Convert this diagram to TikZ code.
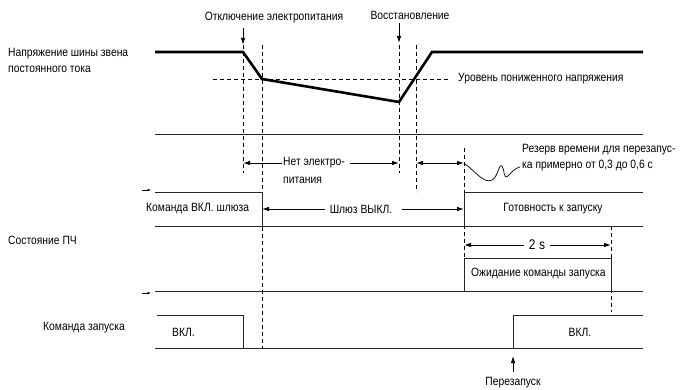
\documentclass[tikz,border=0pt]{standalone}
\usepackage{fontspec}
\setmainfont{Liberation Sans}[FakeStretch=0.86]
\usetikzlibrary{arrows.meta, positioning, calc}

\tikzset{
  sig/.style={line width=0.9pt, black!85},
  volt/.style={line width=2.6pt, line join=miter},
  guide/.style={line width=0.9pt, dash pattern=on 4pt off 3pt},
  arr/.style={line width=0.9pt, -{Latex[length=7pt,width=4.5pt]}},
  darr/.style={line width=0.9pt, {Latex[length=7pt,width=4.5pt]}-{Latex[length=7pt,width=4.5pt]}},
  tick/.style={line width=0.6pt, -{Latex[length=3.5pt,width=2.5pt]}},
  lbl/.style={inner sep=0pt, font=\fontsize{12}{16}\selectfont},
}

\begin{document}
\begin{tikzpicture}[x=1pt,y=-1pt]
	\useasboundingbox (0,0) rectangle (686,390);
	
	% Time instants
	\foreach \n/\x in {tOff/243, tLow/262, tOn/399, tUp/416, tRdy/464, tRun/513, tEnd/611}
	\coordinate (\n) at (\x,0);
	
	% DC bus voltage
	\draw[volt] (155,52) -- (243,52) -- (262,79) -- (399,102) -- (432,52) -- (643,52);
	\draw[guide] (213,79) -- (448,79);
	\node[lbl, anchor=west] (uvLbl) at (458,79) {Уровень пониженного напряжения};
	
	% Guide lines
	\draw[guide] (243,45) -- (243,173);
	\draw[guide] (262,45) -- (262,348);
	\draw[guide] (399,45) -- (399,173);
	\draw[guide] (416,45) -- (416,192);
	\draw[guide] (464,148) -- (464,258);
	\draw[guide] (611,226) -- (611,312);
	
	% Signal rows
	\draw[sig] (155,134) -- (643,134);
	\draw[sig] (155,192) -- (262,192) -- (262,226);
	\draw[sig] (155,226) -- (643,226);
	\draw[sig] (464,226) -- (464,192) -- (643,192);
	\draw[sig] (464,291) -- (464,258) -- (611,258) -- (611,291);
	\draw[sig] (155,291) -- (643,291);
	\draw[sig] (157,315) -- (243,315) -- (243,348);
	\draw[sig] (155,348) -- (643,348);
	\draw[sig] (513,348) -- (513,315) -- (643,315);
	\draw[tick] (142,190) -- (151,190);
	\draw[tick] (142,293) -- (151,293);
	
	% Row labels
	\node[lbl, anchor=west, align=left] (busLbl) at (8,60) {Напряжение шины звена\\постоянного тока};
	\node[lbl, anchor=west] (stLbl) at (8,240) {Состояние ПЧ};
	\node[lbl, anchor=west] (runLbl) at (43,328) {Команда запуска};
	
	% Events
	\node[lbl] (offLbl) at (274,18) {Отключение электропитания};
	\draw[arr] ([yshift=-4pt]offLbl.south -| tOff) -- (tOff |- 0,45);
	\node[lbl] (onLbl) at (410,15) {Восстановление};
	\draw[arr] ([yshift=-4pt]onLbl.south -| tOn) -- (tOn |- 0,43);
	
	% Intervals
	\node[lbl, anchor=west] (np1) at (283,163) {Нет электро-};
	\node[lbl, anchor=west] (np2) at (283,180) {питания};
	\draw[arr] ([xshift=-1pt]np1.west) -- (np1.west -| tOff);
	\draw[arr] ([xshift=5pt]np1.east) -- (np1.east -| tOn);
	\draw[darr] (np1.west -| tUp) -- (np1.west -| tRdy);
	
	\node[lbl, anchor=west, align=left] (note) at (522,158) {Резерв времени для перезапус-\\ка примерно от 0,3 до 0,6 с};
	\draw[line width=0.7pt] (np1.west -| tRdy) .. controls (476,172) and (484,184) .. (492,180)
	.. controls (498,177) and (499,163) .. (502,166) .. controls (505,170) and (503,180) .. (508,176)
	.. controls (512,172) and (515,168) .. (520,167);
	
	\node[lbl, anchor=west] (gateOn) at (146,209) {Команда ВКЛ. шлюза};
	\node[lbl] (gateOff) at (361,209) {Шлюз ВЫКЛ.};
	\draw[arr] ([xshift=-5pt]gateOff.west) -- (gateOff.west -| tLow);
	\draw[arr] ([xshift=10pt]gateOff.east) -- (gateOff.east -| tRdy);
	\node[lbl] (ready) at (553,209) {Готовность к запуску};
	
	\node[lbl, font=\fontsize{14}{16}\selectfont] (twoS) at (537,245) {2 s};
	\draw[arr] ([xshift=-5pt]twoS.west) -- (twoS.west -| tRdy);
	\draw[arr] ([xshift=5pt]twoS.east) -- (twoS.east -| tEnd);
	\node[lbl, anchor=west] (wait) at (471,274) {Ожидание команды запуска};
	
	\node[lbl, anchor=west] (on1) at (172,332) {ВКЛ.};
	\node[lbl] (on2) at (580,332) {ВКЛ.};
	\node[lbl] (rstLbl) at (513,383) {Перезапуск};
	\draw[arr] ([yshift=5pt]rstLbl.north) -- (tRun |- 0,356);
\end{tikzpicture}
\end{document}
